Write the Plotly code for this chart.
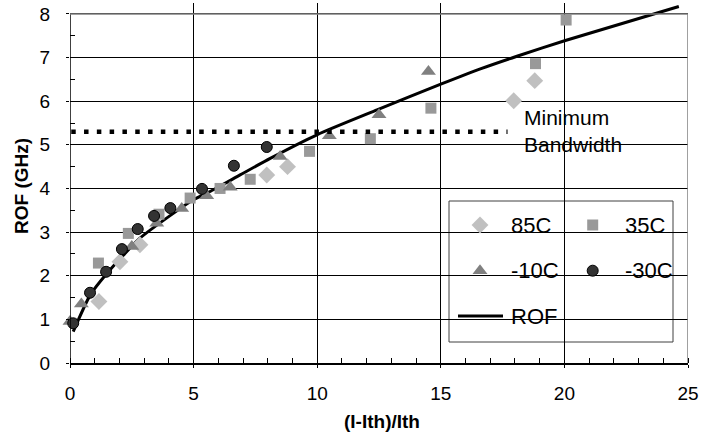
import plotly.graph_objects as go

# ---- data -------------------------------------------------------------
x_85c = [1.17, 2.02, 2.83, 7.96, 8.80, 17.95, 18.80]
y_85c = [1.41, 2.32, 2.71, 4.31, 4.50, 6.01, 6.47]

x_35c = [1.15, 2.36, 3.60, 4.86, 6.07, 7.29, 9.69, 12.15, 14.60, 18.83, 20.07]
y_35c = [2.29, 2.97, 3.41, 3.78, 4.00, 4.21, 4.85, 5.14, 5.84, 6.86, 7.86]

x_m10c = [0.00, 0.46, 2.50, 3.51, 4.52, 5.53, 6.48, 8.50, 10.49, 12.50, 14.50]
y_m10c = [0.95, 1.35, 2.67, 3.20, 3.54, 3.83, 4.03, 4.73, 5.21, 5.69, 6.68]

x_m30c = [0.13, 0.81, 1.46, 2.10, 2.74, 3.40, 4.06, 5.34, 6.63, 7.96]
y_m30c = [0.91, 1.61, 2.09, 2.61, 3.07, 3.37, 3.55, 3.99, 4.52, 4.95]

x_rof = [0.13, 0.81, 1.49, 2.83, 4.18, 4.99, 5.80, 6.88, 8.10, 9.99, 12.42, 15.05, 16.60, 18.08, 20.04, 24.63]
y_rof = [0.72, 1.55, 2.05, 2.86, 3.43, 3.74, 3.97, 4.31, 4.69, 5.23, 5.80, 6.40, 6.74, 7.03, 7.39, 8.17]

x_min_bw = [0.05, 17.70]
y_min_bw = [5.30, 5.30]

x_ticks = [0, 5, 10, 15, 20, 25]
y_ticks = [0, 1, 2, 3, 4, 5, 6, 7, 8]

# ---- geometry (pixels of the 709x438 page) ----------------------------
W, H = 709, 438
PL, PR, PB, PT = 70, 688, 363, 3
Y_TOP = 8.25  # a little headroom so the ROF curve can run past 8


def fx(px):
    return (px - PL) / (PR - PL)


def fy(py):
    return (PB - py) / (PB - PT)


FONT = "Liberation Sans, Arial, sans-serif"
C85, C35, C10, C30 = "#c0c0c0", "#999999", "#808080", "#333333"

fig = go.Figure()

fig.add_trace(go.Scatter(x=x_rof, y=y_rof, mode="lines", name="ROF",
                         line=dict(color="black", width=3, shape="spline", smoothing=0.6)))
fig.add_trace(go.Scatter(x=x_85c, y=y_85c, mode="markers", name="85C", cliponaxis=False,
                         marker=dict(symbol="diamond", size=13, color=C85)))
fig.add_trace(go.Scatter(x=x_35c, y=y_35c, mode="markers", name="35C", cliponaxis=False,
                         marker=dict(symbol="square", size=11, color=C35)))
fig.add_trace(go.Scatter(x=x_m10c, y=y_m10c, mode="markers", name="-10C", cliponaxis=False,
                         marker=dict(symbol="triangle-up", size=13, color=C10)))
fig.add_trace(go.Scatter(x=x_m30c, y=y_m30c, mode="markers", name="-30C", cliponaxis=False,
                         marker=dict(symbol="circle", size=11, color=C30,
                                     line=dict(color="black", width=1))))
fig.add_trace(go.Scatter(x=x_min_bw, y=y_min_bw, mode="lines", name="Minimum Bandwidth",
                         line=dict(color="black", width=4.5, dash="4.5px,8.3px")))

# ---- hand-built legend (2 x 2 grid + line sample) ---------------------
row_y = [225, 270.7, 316]
col_mx = [480, 592.7]
col_tx = [509, 622.7]
legend_items = [
    ("85C", dict(symbol="diamond", size=13, color=C85), 0, 0),
    ("35C", dict(symbol="square", size=11, color=C35), 0, 1),
    ("-10C", dict(symbol="triangle-up", size=13, color=C10), 1, 0),
    ("-30C", dict(symbol="circle", size=11, color=C30, line=dict(color="black", width=1)), 1, 1),
]
for label, mk, r, c in legend_items:
    fig.add_trace(go.Scatter(x=[fx(col_mx[c])], y=[fy(row_y[r])], mode="markers",
                             marker=mk, xaxis="x2", yaxis="y2", hoverinfo="skip"))
fig.add_trace(go.Scatter(x=[fx(458), fx(503)], y=[fy(row_y[2])] * 2, mode="lines",
                         line=dict(color="black", width=3), xaxis="x2", yaxis="y2",
                         hoverinfo="skip"))

annotations = []
for label, mk, r, c in legend_items:
    annotations.append(dict(text=label, x=fx(col_tx[c]), y=fy(row_y[r]), xref="paper", yref="paper",
                            xanchor="left", yanchor="middle", showarrow=False,
                            font=dict(family=FONT, size=22, color="black")))
annotations.append(dict(text="ROF", x=fx(col_tx[0]), y=fy(row_y[2]), xref="paper", yref="paper",
                        xanchor="left", yanchor="middle", showarrow=False,
                        font=dict(family=FONT, size=22, color="black")))
annotations.append(dict(text="Minimum<br>Bandwidth", x=fx(522), y=fy(131), xref="paper", yref="paper",
                        xanchor="left", yanchor="middle", align="left", showarrow=False,
                        font=dict(family=FONT, size=21, color="black")))
# axis titles placed directly on the page
annotations.append(dict(text="<b>(I-Ith)/Ith</b>", x=fx(382), y=fy(421), xref="paper", yref="paper",
                        xanchor="center", yanchor="middle", showarrow=False,
                        font=dict(family=FONT, size=19, color="black")))
annotations.append(dict(text="<b>ROF (GHz)</b>", x=fx(21), y=fy(186), xref="paper", yref="paper",
                        xanchor="center", yanchor="middle", showarrow=False, textangle=-90,
                        font=dict(family=FONT, size=19, color="black")))

shapes = [
    # legend frame
    dict(type="rect", xref="paper", yref="paper", x0=fx(449), x1=fx(673), y0=fy(342), y1=fy(201),
         fillcolor="white", line=dict(color="#404040", width=1), layer="between"),
    # clear patch behind the "Minimum Bandwidth" label
    dict(type="rect", xref="paper", yref="paper", x0=fx(517), x1=fx(627), y0=fy(165), y1=fy(101),
         fillcolor="white", line=dict(width=0), layer="between"),
    # frame: left axis, grey top and right borders
    dict(type="line", xref="x", yref="y", x0=0, x1=0, y0=0, y1=8, line=dict(color="black", width=1.5)),
    dict(type="line", xref="x", yref="y", x0=0, x1=25, y0=8, y1=8, line=dict(color="#808080", width=1.5)),
    dict(type="line", xref="x", yref="y", x0=25, x1=25, y0=0, y1=8, line=dict(color="#808080", width=1.5)),
]

fig.update_layout(
    width=W, height=H,
    margin=dict(l=PL, r=W - PR, t=PT, b=H - PB),
    paper_bgcolor="white", plot_bgcolor="white",
    showlegend=False,
    font=dict(family=FONT, color="black"),
    annotations=annotations,
    shapes=shapes,
    xaxis=dict(range=[0, 25], tickvals=x_ticks, showgrid=True, gridcolor="black", gridwidth=1,
               zeroline=False, showline=True, linecolor="black", linewidth=1.5,
               ticks="outside", ticklen=3, tickcolor="black", ticklabelstandoff=9,
               tickfont=dict(size=19),
               minor=dict(dtick=1, ticks="inside", ticklen=5, tickcolor="black", showgrid=False)),
    yaxis=dict(range=[0, Y_TOP], tickvals=y_ticks, showgrid=True, gridcolor="black", gridwidth=1,
               zeroline=False, showline=False,
               ticks="outside", ticklen=3, tickcolor="black", ticklabelstandoff=12,
               tickfont=dict(size=19),
               minor=dict(tickvals=[0.5, 1.5, 2.5, 3.5, 4.5, 5.5, 6.5, 7.5], ticks="inside",
                          ticklen=5, tickcolor="black", showgrid=False)),
    xaxis2=dict(overlaying="x", range=[0, 1], visible=False),
    yaxis2=dict(overlaying="y", range=[0, 1], visible=False),
)

fig.write_html("out.html")
